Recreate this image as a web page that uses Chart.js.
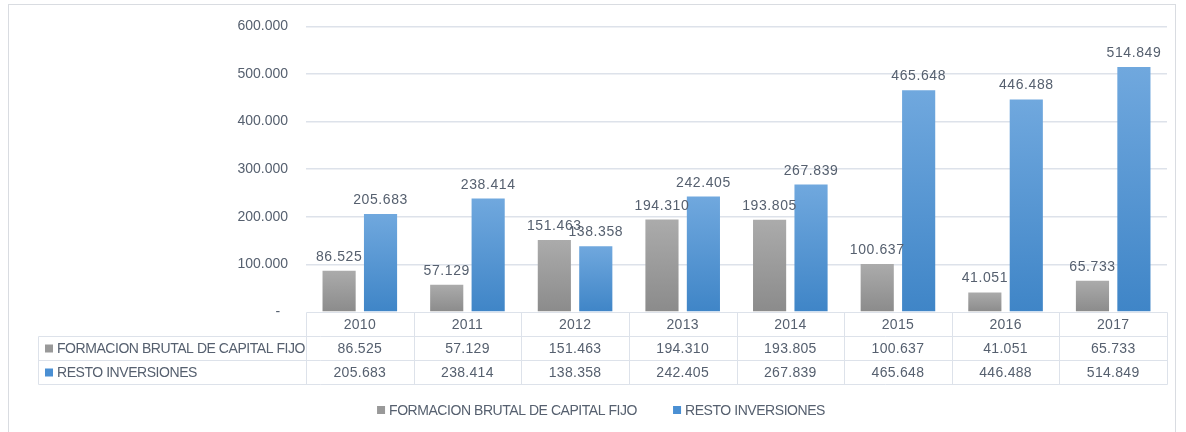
<!DOCTYPE html>
<html>
<head>
<meta charset="utf-8">
<script src="https://cdn.jsdelivr.net/npm/chart.js@4.4.0/dist/chart.umd.min.js"></script>
<style>
    body { margin: 0; background: #ffffff; }
</style>
</head>
<body>
<canvas id="myChart" width="1186" height="432"></canvas>
<script>
var YEARS = ['2010', '2011', '2012', '2013', '2014', '2015', '2016', '2017'];
var FORMACION = [86525, 57129, 151463, 194310, 193805, 100637, 41051, 65733];
var RESTO = [205683, 238414, 138358, 242405, 267839, 465648, 446488, 514849];
var SERIES_NAMES = ['FORMACION BRUTAL DE CAPITAL FIJO', 'RESTO INVERSIONES'];
var Y_TICKS = [0, 100000, 200000, 300000, 400000, 500000, 600000];

var TEXT_COLOR = '#56606f';
var LINE_COLOR = '#dde2ea';
var FONT = 'Liberation Sans';

function fmt(n) {
    return String(n).replace(/\B(?=(\d{3})+(?!\d))/g, '.');
}

// gradient per bar, lighter on top like the office chart
function barGradient(top, bottom) {
    return function (ctx) {
        var chart = ctx.chart;
        var y = chart.scales.y;
        if (!y || ctx.parsed === undefined) return bottom;
        var yTop = y.getPixelForValue(ctx.parsed.y);
        var yBot = y.getPixelForValue(0);
        if (!isFinite(yTop) || yBot - yTop < 1) return bottom;
        var g = chart.ctx.createLinearGradient(0, yTop, 0, yBot);
        g.addColorStop(0, top);
        g.addColorStop(1, bottom);
        return g;
    };
}

function setSpacing(c, v) {
    if ('letterSpacing' in c) c.letterSpacing = v;
}

var tablePlugin = {
    id: 'tablePlugin',
    beforeDraw: function (chart) {
        var c = chart.ctx;
        c.save();
        c.fillStyle = '#ffffff';
        c.fillRect(0, 0, chart.width, chart.height);
        c.strokeStyle = '#d9dce1';
        c.lineWidth = 1;
        c.strokeRect(8.5, 4.5, 1167, 460);
        c.restore();
    },
    afterDatasetsDraw: function (chart) {
        // values over the bars
        var c = chart.ctx;
        c.save();
        c.font = '14px "' + FONT + '"';
        c.fillStyle = TEXT_COLOR;
        c.textAlign = 'center';
        c.textBaseline = 'alphabetic';
        setSpacing(c, '0.6px');
        chart.data.datasets.forEach(function (ds, di) {
            var meta = chart.getDatasetMeta(di);
            meta.data.forEach(function (bar, i) {
                c.fillText(fmt(ds.data[i]), bar.x, bar.y - 10);
            });
        });
        c.restore();
    },
    afterDraw: function (chart) {
        var c = chart.ctx;
        var x = chart.scales.x;
        var area = chart.chartArea;
        var n = YEARS.length;
        var colW = (x.right - x.left) / n;
        var top = Math.round(area.bottom) + 0.5;
        var rowH = 24;
        var tableLeft = 38.5;
        var right = Math.round(x.right) + 0.5;
        var left = Math.round(x.left) + 0.5;

        c.save();
        c.strokeStyle = LINE_COLOR;
        c.lineWidth = 1;
        c.beginPath();
        // horizontal lines
        c.moveTo(left, top); c.lineTo(right, top);
        c.moveTo(tableLeft, top + rowH); c.lineTo(right, top + rowH);
        c.moveTo(tableLeft, top + rowH * 2); c.lineTo(right, top + rowH * 2);
        c.moveTo(tableLeft, top + rowH * 3); c.lineTo(right, top + rowH * 3);
        // vertical lines
        c.moveTo(tableLeft, top + rowH); c.lineTo(tableLeft, top + rowH * 3);
        for (var i = 0; i <= n; i++) {
            var xx = Math.round(x.left + i * colW) + 0.5;
            c.moveTo(xx, top); c.lineTo(xx, top + rowH * 3);
        }
        c.stroke();

        c.font = '14px "' + FONT + '"';
        c.fillStyle = TEXT_COLOR;
        c.textAlign = 'center';
        c.textBaseline = 'middle';
        setSpacing(c, '0.3px');
        var rows = [YEARS, FORMACION.map(fmt), RESTO.map(fmt)];
        rows.forEach(function (row, r) {
            row.forEach(function (v, i) {
                c.fillText(v, x.getPixelForValue(i), top + rowH * r + rowH / 2 + 1);
            });
        });

        // row headers with the series keys
        c.textAlign = 'left';
        setSpacing(c, '-0.45px');
        var colors = ['#999999', '#4a8fd3'];
        SERIES_NAMES.forEach(function (name, s) {
            var cy = top + rowH * (s + 1) + rowH / 2;
            c.fillStyle = colors[s];
            c.fillRect(45, cy - 4, 8, 8);
            c.fillStyle = TEXT_COLOR;
            c.fillText(name, 57, cy + 1);
        });

        // legend under the table
        var w1 = c.measureText(SERIES_NAMES[0]).width;
        var w2 = c.measureText(SERIES_NAMES[1]).width;
        var total = 12 + w1 + 36 + 12 + w2;
        var lx = 601 - total / 2;
        var ly = 410;
        c.fillStyle = colors[0];
        c.fillRect(lx, ly - 4, 8, 8);
        c.fillStyle = TEXT_COLOR;
        c.fillText(SERIES_NAMES[0], lx + 12, ly + 1);
        lx += 12 + w1 + 36;
        c.fillStyle = colors[1];
        c.fillRect(lx, ly - 4, 8, 8);
        c.fillStyle = TEXT_COLOR;
        c.fillText(SERIES_NAMES[1], lx + 12, ly + 1);
        c.restore();
    }
};

var ctx = document.getElementById('myChart').getContext('2d');
var myChart = new Chart(ctx, {
    type: 'bar',
    data: {
        labels: YEARS,
        datasets: [{
            label: SERIES_NAMES[0],
            data: FORMACION,
            backgroundColor: barGradient('#ababab', '#8b8b8b'),
            categoryPercentage: 0.77,
            barPercentage: 0.8
        }, {
            label: SERIES_NAMES[1],
            data: RESTO,
            backgroundColor: barGradient('#70a8de', '#3f85c7'),
            categoryPercentage: 0.77,
            barPercentage: 0.8
        }]
    },
    options: {
        responsive: false,
        animation: false,
        layout: {
            padding: { top: 24, right: 19, left: 0, bottom: 0 }
        },
        scales: {
            x: {
                grid: { display: false },
                border: { display: false },
                ticks: { display: false },
                afterFit: function (scale) { scale.height = 120; }
            },
            y: {
                min: 0,
                max: 600000,
                afterFit: function (scale) { scale.width = 306; },
                afterBuildTicks: function (scale) {
                    scale.ticks = Y_TICKS.map(function (v) { return { value: v }; });
                },
                grid: {
                    color: function (c) { return c.tick && c.tick.value === 0 ? 'rgba(0,0,0,0)' : LINE_COLOR; },
                    drawTicks: false,
                    lineWidth: 1.5
                },
                border: { display: false },
                ticks: {
                    padding: 18,
                    color: TEXT_COLOR,
                    font: { family: FONT, size: 14 },
                    callback: function (v) { return v === 0 ? '-  ' : fmt(v); }
                }
            }
        },
        plugins: {
            legend: { display: false },
            tooltip: { enabled: false }
        }
    },
    plugins: [tablePlugin]
});
</script>
</body>
</html>
